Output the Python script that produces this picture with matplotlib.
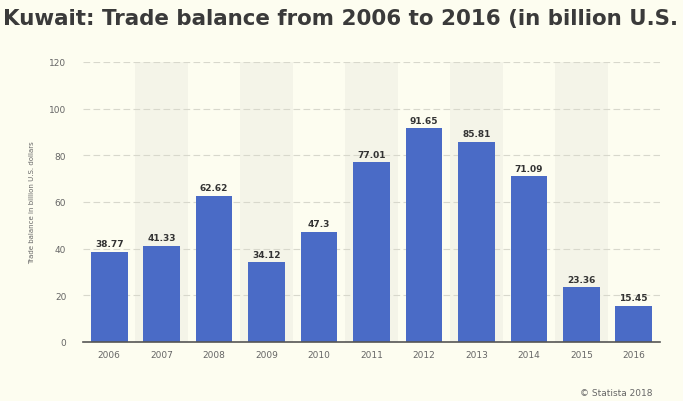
import matplotlib.pyplot as plt

years = ['2006', '2007', '2008', '2009', '2010', '2011', '2012', '2013', '2014', '2015', '2016']
balance = [38.77, 41.33, 62.62, 34.12, 47.3, 77.01, 91.65, 85.81, 71.09, 23.36, 15.45]
value_labels = ['38.77', '41.33', '62.62', '34.12', '47.3', '77.01', '91.65', '85.81', '71.09', '23.36', '15.45']
y_ticks = [0, 20, 40, 60, 80, 100, 120]

# the title runs off the right edge in the original, only this much is visible
title = 'Kuwait: Trade balance from 2006 to 2016 (in billion U.S.'

bg = '#fdfdf0'
band = '#f4f4e8'
bar_color = '#4a6bc6'

fig = plt.figure(figsize=(6.83, 4.02), dpi=100, facecolor=bg)
ax = fig.add_axes([83 / 683, 1 - 343 / 402, 577 / 683, 280 / 402])
ax.set_facecolor(bg)

x = list(range(len(years)))

# shaded bands behind every second year
for i in x:
    if i % 2 == 1:
        ax.axvspan(i - 0.5, i + 0.5, color=band, zorder=0, lw=0)

for t in y_ticks[1:]:
    ax.axhline(t, color='#d8d8cc', lw=0.8, ls=(0, (6, 3)), zorder=1)

bars = ax.bar(x, balance, width=0.7, color=bar_color, zorder=2)
for i, v in enumerate(balance):
    ax.text(i, v + 1.5, value_labels[i], ha='center', va='bottom',
            fontsize=6.5, fontweight='bold', color='#333333')

ax.set_xlim(-0.5, len(years) - 0.5)
ax.set_ylim(0, 120)
ax.set_xticks(x)
ax.set_xticklabels(years)
ax.set_yticks(y_ticks)
ax.tick_params(axis='both', length=0, labelsize=6.5, colors='#666666')
ax.tick_params(axis='x', pad=6)
ax.tick_params(axis='y', pad=12)

for s in ['top', 'right', 'left']:
    ax.spines[s].set_visible(False)
ax.spines['bottom'].set_color('#555555')
ax.spines['bottom'].set_linewidth(1.2)

ax.set_ylabel('Trade balance in billion U.S. dollars', fontsize=5, color='#666666', labelpad=10)

t = fig.text(3 / 683, 1 - 19 / 402, title, fontsize=14, fontweight='bold',
             color='#3a3a3a', va='center', ha='left')
# scale title so it just reaches the right edge
fig.canvas.draw()
w = t.get_window_extent().width
t.set_fontsize(14 * 677 / w)

fig.text(652 / 683, 1 - 394 / 402, '© Statista 2018', fontsize=6.5, color='#666666',
         ha='right', va='center')

fig.savefig('out.png', dpi=100, facecolor=bg)
